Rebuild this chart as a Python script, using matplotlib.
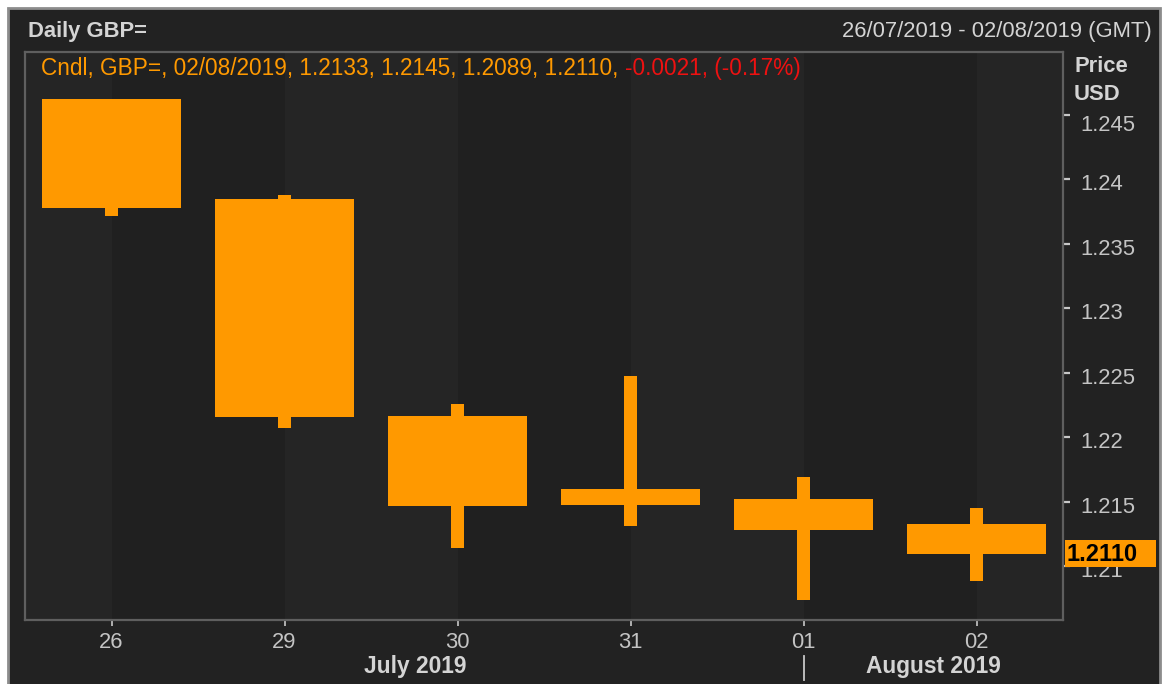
import matplotlib
matplotlib.use("Agg")
import matplotlib.pyplot as plt
import matplotlib.transforms as mtrans
from matplotlib.patches import Rectangle
from matplotlib.lines import Line2D

# ---- data -------------------------------------------------------------
days = ["26", "29", "30", "31", "01", "02"]
opens = [1.2462, 1.2385, 1.2217, 1.2148, 1.2152, 1.2133]
highs = [1.2462, 1.2388, 1.2226, 1.2248, 1.2169, 1.2145]
lows = [1.2372, 1.2207, 1.2114, 1.2131, 1.2074, 1.2089]
closes = [1.2378, 1.2216, 1.2147, 1.2160, 1.2128, 1.2110]
y_ticks = [1.21, 1.215, 1.22, 1.225, 1.23, 1.235, 1.24, 1.245]
y_tick_labels = ["1.21", "1.215", "1.22", "1.225", "1.23", "1.235", "1.24", "1.245"]
months = ["July 2019", "August 2019"]
last_price = "1.2110"
header_main = "Cndl, GBP=, 02/08/2019, 1.2133, 1.2145, 1.2089, 1.2110, "
header_change = "-0.0021, (-0.17%)"

# ---- style ------------------------------------------------------------
plt.rcParams["font.family"] = ["Liberation Sans", "DejaVu Sans"]
ORANGE = "#ff9900"
PANEL = "#222222"
BAND_LIGHT = "#252525"
BAND_DARK = "#202020"
TEXT = "#d4d4d4"
TICKTXT = "#c4c4c4"
FS = 15.8

W, H = 1166, 684
fig = plt.figure(figsize=(W / 100, H / 100), dpi=100, facecolor="white")


def fx(x):
    return x / W


def fy(y):
    return 1 - y / H


# dark panel with a light frame
fig.patches.append(Rectangle((fx(8), fy(692)), fx(1152), (692 - 8) / H,
                             transform=fig.transFigure, facecolor=PANEL,
                             edgecolor="#8c8c8c", linewidth=2, zorder=-10))

ax = fig.add_axes([fx(25), fy(620), fx(1038), (620 - 52) / H])
ax.set_facecolor(PANEL)
ax.set_xlim(-0.5, len(days) - 0.5)
ax.set_ylim(1.20585, 1.24988)

# alternating day bands, edges at the candle centres
edges = [-0.5] + list(range(len(days))) + [len(days) - 0.5]
for i in range(len(edges) - 1):
    ax.axvspan(edges[i], edges[i + 1], color=BAND_LIGHT if i % 2 == 0 else BAND_DARK,
               lw=0, zorder=0)

xs = list(range(len(days)))
body_bottom = [min(o, c) for o, c in zip(opens, closes)]
body_height = [abs(c - o) for o, c in zip(opens, closes)]
ax.bar(xs, body_height, bottom=body_bottom, width=0.8, color=ORANGE, lw=0, zorder=3)
ax.bar(xs, [h - l for h, l in zip(highs, lows)], bottom=lows, width=0.072,
       color=ORANGE, lw=0, zorder=3)

for s in ax.spines.values():
    s.set_color("#5f5f5f")
    s.set_linewidth(1.6)

# x axis
ax.set_xticks(xs)
ax.set_xticklabels(days)
ax.tick_params(axis="x", colors="#c8c8c8", labelcolor=TICKTXT, length=4, width=1.2,
               pad=4.5, labelsize=FS)

# y axis on the right
ax.yaxis.tick_right()
ax.set_yticks(y_ticks)
ax.set_yticklabels([])
ax.tick_params(axis="y", colors="#c8c8c8", length=5, width=1.6)
ytrans = ax.get_yaxis_transform()
for v, lab in zip(y_ticks, y_tick_labels):
    # the top label sits a little lower so it clears the unit caption
    drop = 11 if v == y_ticks[-1] else 5.5
    off = mtrans.ScaledTranslation(17 / 100, -drop / 100, fig.dpi_scale_trans)
    ax.text(1.0, v, lab, transform=ytrans + off, ha="left", va="center",
            color=TICKTXT, fontsize=FS, clip_on=False, zorder=4)

# last price tag
last_v = closes[-1]
tag_h = 27 / 12900
tag = Rectangle((1.0019, last_v - tag_h / 2), 91 / 1038, tag_h, transform=ytrans,
                facecolor=ORANGE, edgecolor="none", clip_on=False, zorder=5)
ax.add_patch(tag)
tagoff = mtrans.ScaledTranslation(4 / 100, -1 / 100, fig.dpi_scale_trans)
ax.text(1.0, last_v, last_price, transform=ytrans + tagoff, ha="left", va="center",
        color="black", fontsize=FS + 1.2, fontweight="bold", clip_on=False, zorder=6)

# titles and header
fig.text(fx(28), fy(32), "Daily GBP=", ha="left", va="center", color=TEXT,
         fontsize=FS, fontweight="bold")
fig.text(fx(1152), fy(32), "26/07/2019 - 02/08/2019 (GMT)", ha="right", va="center",
         color=TEXT, fontsize=FS)
t1 = fig.text(fx(41), fy(69), header_main, ha="left", va="center", color=ORANGE,
              fontsize=FS + 0.45)
ax.annotate(header_change, xy=(1, 0.5), xycoords=t1, ha="left", va="center",
            color="#ee1111", fontsize=FS + 0.45)
fig.text(fx(1075), fy(66), "Price", ha="left", va="center", color=TEXT,
         fontsize=FS, fontweight="bold")
fig.text(fx(1074), fy(95), "USD", ha="left", va="center", color=TEXT,
         fontsize=FS, fontweight="bold")

# month labels and separator
fig.text(fx(415), fy(667), months[0], ha="center", va="center", color=TEXT,
         fontsize=FS + 0.6, fontweight="bold")
fig.text(fx(933), fy(667), months[1], ha="center", va="center", color=TEXT,
         fontsize=FS + 0.6, fontweight="bold")
sep_x = ax.transData.transform((4, 0))[0] / W
fig.lines.append(Line2D([sep_x, sep_x], [fy(656), fy(680)], transform=fig.transFigure,
                        color="#c8c8c8", lw=1.3))

fig.savefig("out.png", dpi=100, facecolor="white")
